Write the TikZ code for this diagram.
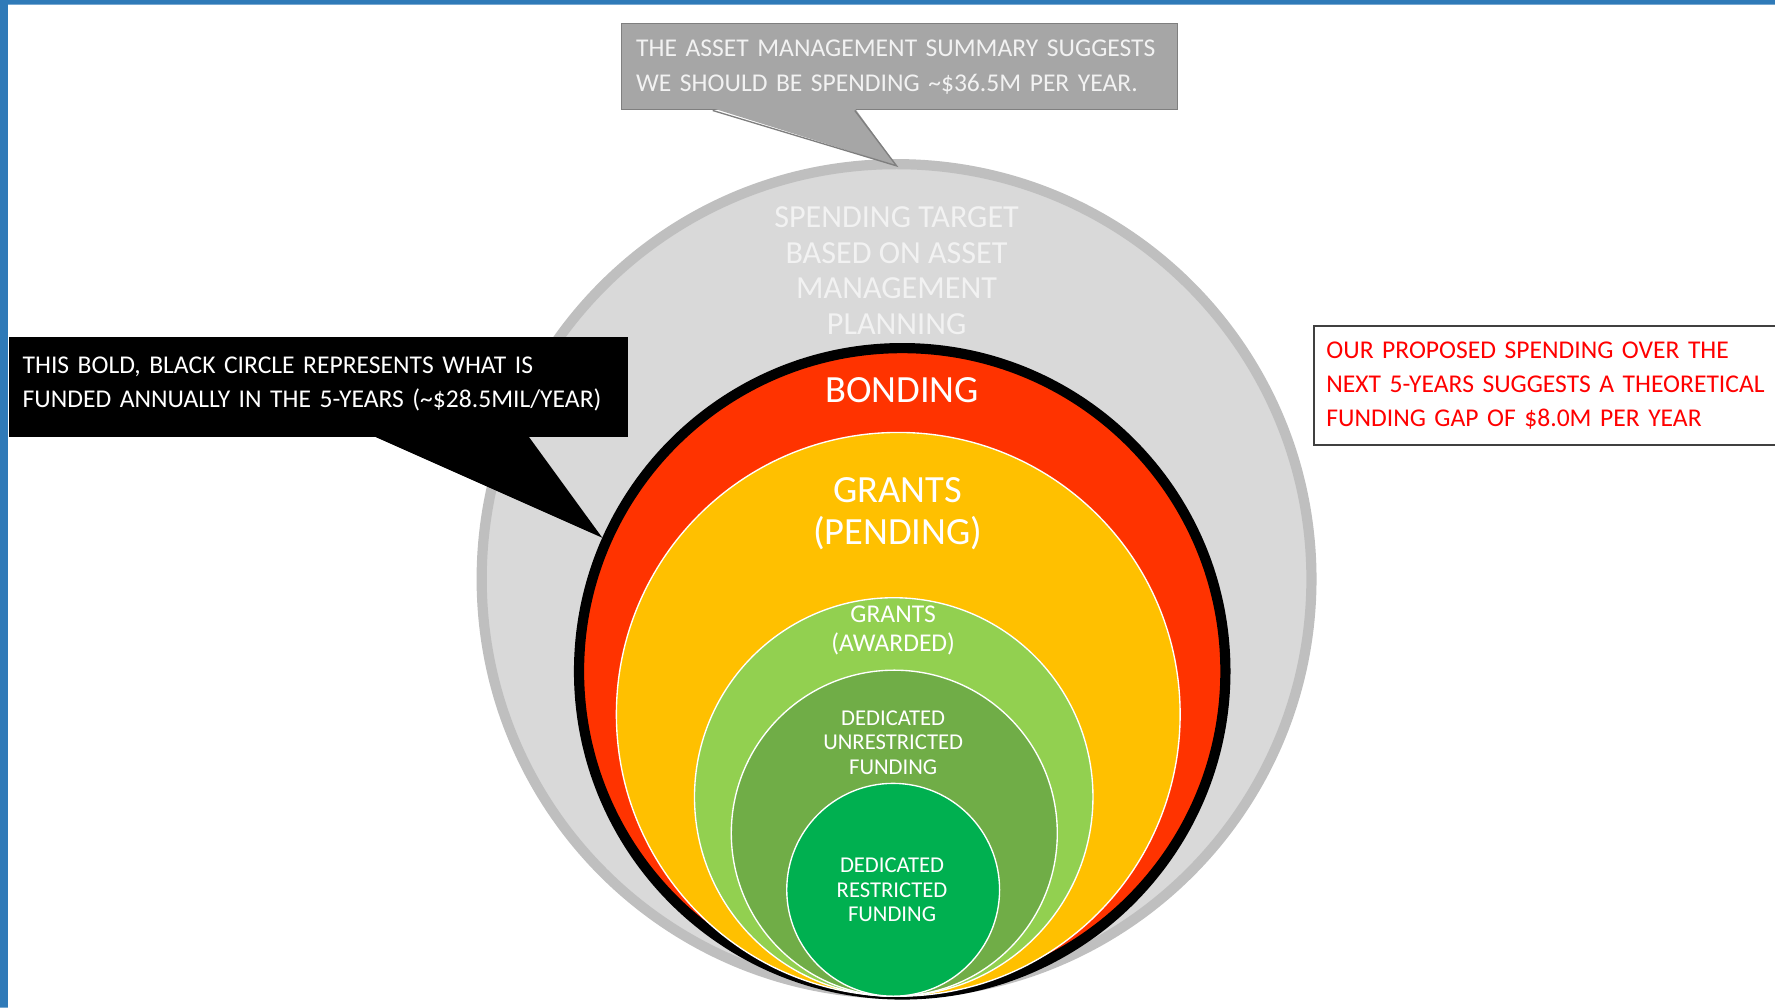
\documentclass[tikz,border=0pt]{standalone}
\usepackage{fontspec}
\setmainfont{Carlito}
\usetikzlibrary{positioning,calc}
\definecolor{frameblue}{HTML}{2F7AB8}
\definecolor{ringgray}{HTML}{BFBFBF}
\definecolor{targetgray}{HTML}{D9D9D9}
\definecolor{boxgray}{HTML}{A6A6A6}
\definecolor{boxline}{HTML}{7F7F7F}
\definecolor{paletext}{HTML}{F2F2F2}
\definecolor{bondred}{HTML}{FF3300}
\definecolor{pendyellow}{HTML}{FFC000}
\definecolor{awardgreen}{HTML}{92D050}
\definecolor{unresgreen}{HTML}{70AD47}
\definecolor{resgreen}{HTML}{00B050}
\definecolor{gapred}{HTML}{FF0000}
\definecolor{gapline}{HTML}{404040}
\newcommand\fsz[2]{\fontsize{#1}{#2}\selectfont}
\begin{document}
\begin{tikzpicture}[x=.5pt, y=-.5pt,
  disc/.style={circle, inner sep=0pt, draw=white, line width=.6pt},
  lbl/.style={align=center, text=white, inner sep=0pt},
  callbox/.style={rectangle, inner ysep=0pt, align=left}]
  \useasboundingbox (0,0) rectangle (1568,890);
  \fill[frameblue] (0,0) rectangle (1568,4) (0,0) rectangle (7,890);
  \node[disc, fill=targetgray, draw=ringgray, line width=4.5pt, minimum size=366.5pt] (target) at (792,511.5) {};
  \node[disc, fill=bondred, draw=black, line width=4.5pt, minimum size=285.5pt] (bonding) at (797,593) {};
  \node[disc, fill=pendyellow, minimum size=249pt] (pending) at (793.5,631) {};
  \node[disc, fill=awardgreen, minimum size=176pt] (awarded) at (789.5,704) {};
  \node[disc, fill=unresgreen, minimum size=144pt] (unrestricted) at (790,736) {};
  \node[disc, fill=resgreen, minimum size=94pt] (restricted) at (789,786) {};
  \node[lbl, text=paletext, font=\fsz{14.2}{15.65}] (targetlbl) at (792,239)
    {SPENDING TARGET\\BASED ON ASSET\\MANAGEMENT\\PLANNING};
  \node[lbl, font=\fsz{17}{18.5}] (bondinglbl) at (797,345) {BONDING};
  \node[lbl, font=\fsz{17}{18.5}] (pendinglbl) at (793,453.5) {GRANTS\\(PENDING)};
  \node[lbl, font=\fsz{11.3}{13}] (awardedlbl) at (789,557) {GRANTS\\(AWARDED)};
  \node[lbl, font=\fsz{10}{10.75}] (unreslbl) at (789,656) {DEDICATED\\UNRESTRICTED\\FUNDING};
  \node[lbl, font=\fsz{10}{10.75}] (reslbl) at (788,786) {DEDICATED\\RESTRICTED\\FUNDING};
  \node[callbox, fill=boxgray, draw=boxline, line width=.6pt, text=paletext, inner xsep=6.5pt,
    minimum width=245.5pt, minimum height=38pt, text width=232.5pt, font=\fsz{11.3}{15.5}]
    (summary) at (794.5,59) {THE ASSET MANAGEMENT SUMMARY SUGGESTS\\WE SHOULD BE SPENDING \textasciitilde\$36.5M PER YEAR.};
  \coordinate (s1) at ($(summary.south west)!.165!(summary.south east)$);
  \coordinate (s2) at ($(summary.south west)!.42!(summary.south east)$);
  \coordinate (stip) at ([yshift=-3pt]target.north);
  \fill[boxgray] ([yshift=1pt]s1) -- (stip) -- ([yshift=1pt]s2) -- cycle;
  \draw[boxline, line width=.6pt] (s1) -- (stip) -- (s2);
  \node[callbox, fill=black, text=white, inner xsep=6pt, text depth=19pt,
    minimum width=273.5pt, minimum height=44pt, text width=261.5pt, font=\fsz{11.3}{15}]
    (funded) at (281.5,342) {THIS BOLD, BLACK CIRCLE REPRESENTS WHAT IS\\FUNDED ANNUALLY IN THE 5-YEARS (\textasciitilde\$28.5MIL/YEAR)};
  \coordinate (f1) at ($(funded.south west)!.585!(funded.south east)$);
  \coordinate (f2) at ($(funded.south west)!.837!(funded.south east)$);
  \fill ([yshift=1pt]f1) -- (bonding.156) -- ([yshift=1pt]f2) -- cycle;
  \node[callbox, draw=gapline, line width=.7pt, fill=white, text=gapred, anchor=west, inner xsep=5.5pt,
    minimum width=230pt, minimum height=52.5pt, text width=219pt, font=\fsz{11.3}{15}]
    (gap) at (1160,340.5) {OUR PROPOSED SPENDING OVER THE\\NEXT 5-YEARS SUGGESTS A THEORETICAL\\FUNDING GAP OF \$8.0M PER YEAR};
\end{tikzpicture}
\end{document}
